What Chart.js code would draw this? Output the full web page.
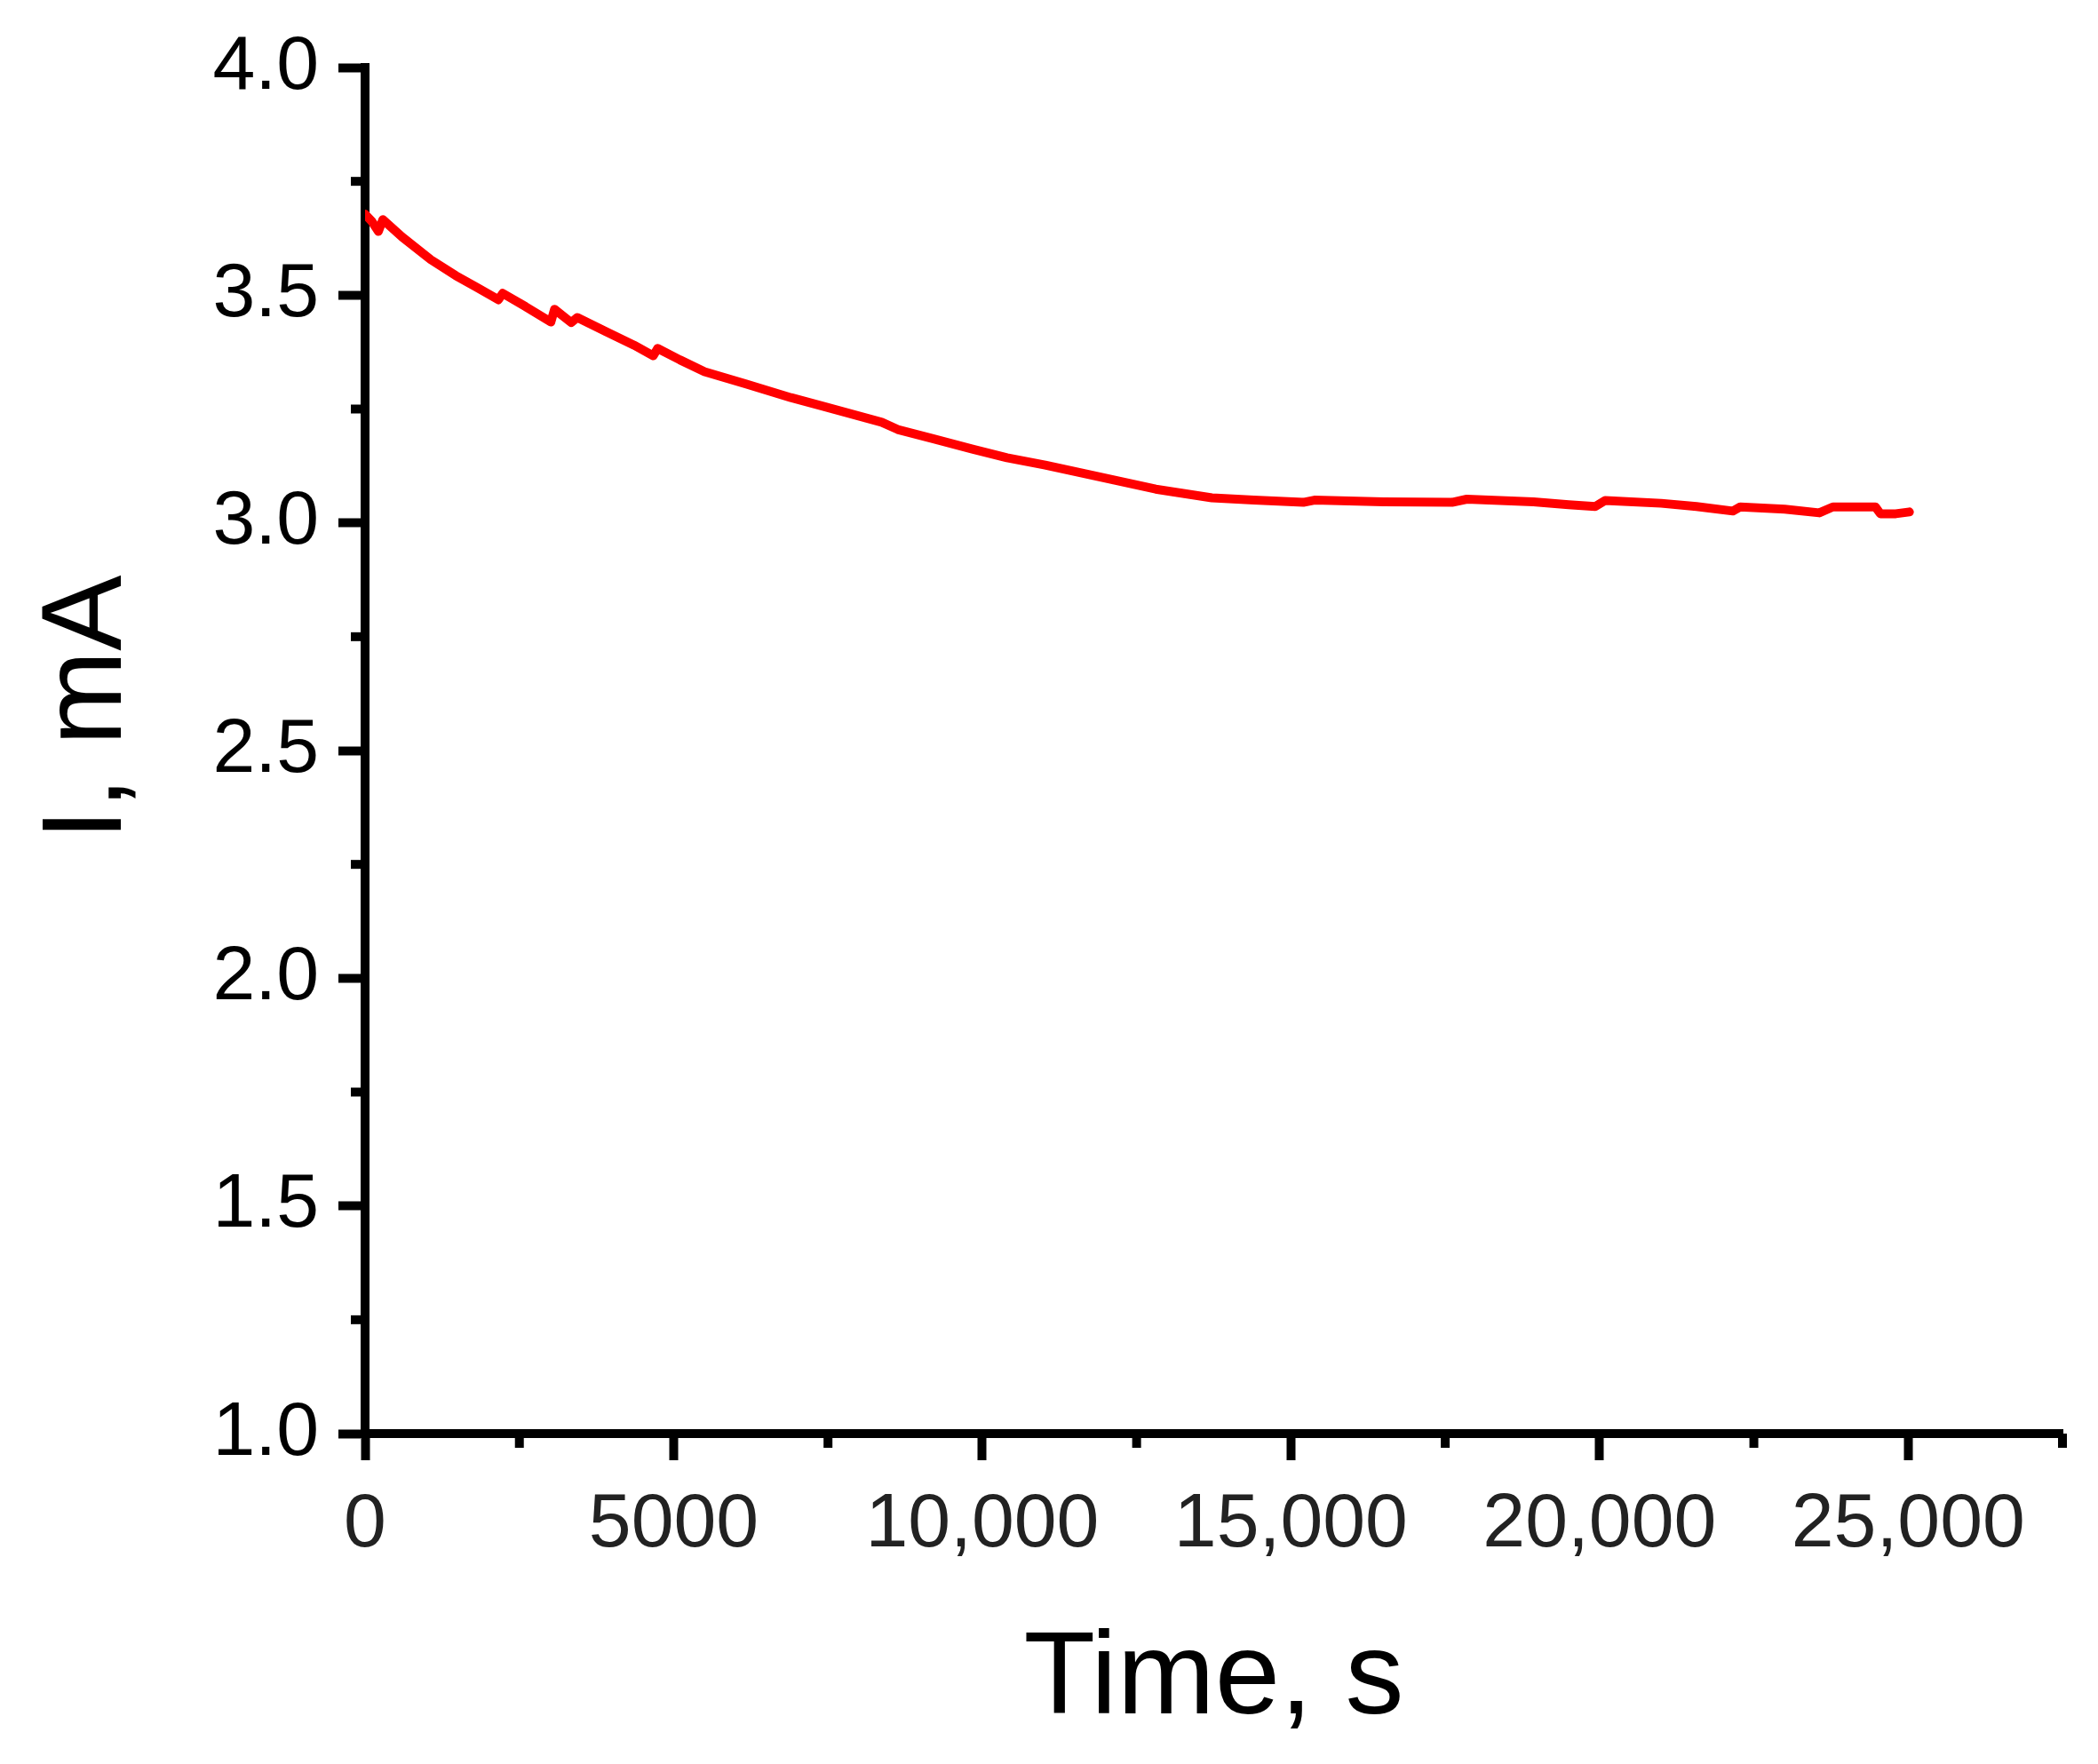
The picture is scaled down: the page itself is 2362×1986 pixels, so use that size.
<!DOCTYPE html>
<html>
<head>
<meta charset="utf-8">
<script src="https://cdn.jsdelivr.net/npm/chart.js@4.4.1/dist/chart.umd.min.js"></script>
<style>
  html, body { margin: 0; padding: 0; background: #fff; }
  canvas { display: block; }
</style>
</head>
<body>
<canvas id="chart" width="2362" height="1986"></canvas>
<script>
// Datos (tiempo en s, corriente en mA)
const times = [0, 110, 216, 288, 600, 1066, 1470, 1800, 2160, 2230, 2600, 3010, 3070, 3340, 3440,
  3900, 4360, 4670, 4740, 5100, 5500, 6170, 6900, 7420, 8370, 8630, 9200, 9840, 10400, 11020,
  11800, 12810, 13720, 14400, 15200, 15380, 16500, 17610, 17850, 18930, 19500, 19930, 20090,
  21000, 21570, 22160, 22280, 23000, 23560, 23780, 24470, 24550, 24800, 25020];
const currents = [3.678, 3.662, 3.640, 3.666, 3.628, 3.578, 3.543, 3.518, 3.490, 3.504, 3.475, 3.441, 3.469, 3.440, 3.451,
  3.420, 3.390, 3.367, 3.383, 3.358, 3.332, 3.305, 3.275, 3.256, 3.221, 3.205, 3.185, 3.162, 3.143, 3.127,
  3.104, 3.074, 3.055, 3.050, 3.045, 3.050, 3.046, 3.045, 3.052, 3.046, 3.040, 3.036, 3.049,
  3.043, 3.036, 3.026, 3.035, 3.030, 3.022, 3.035, 3.035, 3.020, 3.020, 3.024];

const xMajorTicks = [0, 5000, 10000, 15000, 20000, 25000];
const xMinorTicks = [2500, 7500, 12500, 17500, 22500, 27500];
const yMajorTicks = [1.0, 1.5, 2.0, 2.5, 3.0, 3.5, 4.0];
const yMinorTicks = [1.25, 1.75, 2.25, 2.75, 3.25, 3.75];

const FONT = "'Liberation Sans', Arial, sans-serif";

// marcas menores dibujadas con las escalas del gráfico
const minorTicks = {
    id: 'minorTicks',
    afterDraw(chart) {
        const ctx = chart.ctx;
        const xs = chart.scales.x;
        const ys = chart.scales.y;
        ctx.save();
        ctx.strokeStyle = '#000';
        ctx.lineWidth = 10;
        xMinorTicks.forEach(v => {
            const px = xs.getPixelForValue(v);
            ctx.beginPath();
            ctx.moveTo(px, xs.top);
            ctx.lineTo(px, xs.top + 16);
            ctx.stroke();
        });
        yMinorTicks.forEach(v => {
            const py = ys.getPixelForValue(v);
            ctx.beginPath();
            ctx.moveTo(ys.right, py);
            ctx.lineTo(ys.right - 16, py);
            ctx.stroke();
        });
        ctx.restore();
    }
};

new Chart(document.getElementById('chart'), {
    type: 'line',
    data: {
        datasets: [{
            data: times.map((t, i) => ({ x: t, y: currents[i] })),
            borderColor: '#ff0000',
            borderWidth: 10,
            borderJoinStyle: 'round',
            borderCapStyle: 'round',
            pointRadius: 0,
            tension: 0,
            fill: false
        }]
    },
    options: {
        responsive: false,
        animation: false,
        devicePixelRatio: 1,
        layout: { padding: { top: 76, right: 40, left: 0, bottom: 0 } },
        plugins: { legend: { display: false }, tooltip: { enabled: false } },
        scales: {
            x: {
                type: 'linear',
                min: 0,
                max: 27500,
                afterBuildTicks: s => { s.ticks = xMajorTicks.map(v => ({ value: v })); },
                afterFit: s => { s.height = 372; s.paddingLeft = 0; s.paddingRight = 0; },
                border: { display: true, color: '#000', width: 10 },
                grid: { drawOnChartArea: false, drawTicks: true, tickLength: 30, tickWidth: 10, tickColor: '#000' },
                ticks: {
                    padding: 22,
                    color: '#222',
                    maxRotation: 0,
                    autoSkip: false,
                    font: { family: FONT, size: 86 },
                    callback: v => v >= 10000 ? v.toLocaleString('en-US') : String(v)
                },
                title: {
                    display: true,
                    text: 'Time, s',
                    color: '#000',
                    font: { family: FONT, size: 132 },
                    padding: { top: 0, bottom: 14 }
                }
            },
            y: {
                type: 'linear',
                min: 1.0,
                max: 4.0,
                afterBuildTicks: s => { s.ticks = yMajorTicks.map(v => ({ value: v })); },
                afterFit: s => { s.width = 411; s.paddingTop = 0; s.paddingBottom = 0; },
                border: { display: true, color: '#000', width: 10 },
                grid: { drawOnChartArea: false, drawTicks: true, tickLength: 30, tickWidth: 10, tickColor: '#000' },
                ticks: {
                    padding: 22,
                    color: '#000',
                    autoSkip: false,
                    font: { family: FONT, size: 86 },
                    callback: v => v.toFixed(1)
                },
                title: {
                    display: true,
                    // espacios al inicio para subir un poco el título, como en el original
                    text: '\u00a0\u00a0\u2009I, mA',
                    color: '#000',
                    font: { family: FONT, size: 128 },
                    padding: { top: 24, bottom: 0 }
                }
            }
        }
    },
    plugins: [minorTicks]
});
</script>
</body>
</html>
